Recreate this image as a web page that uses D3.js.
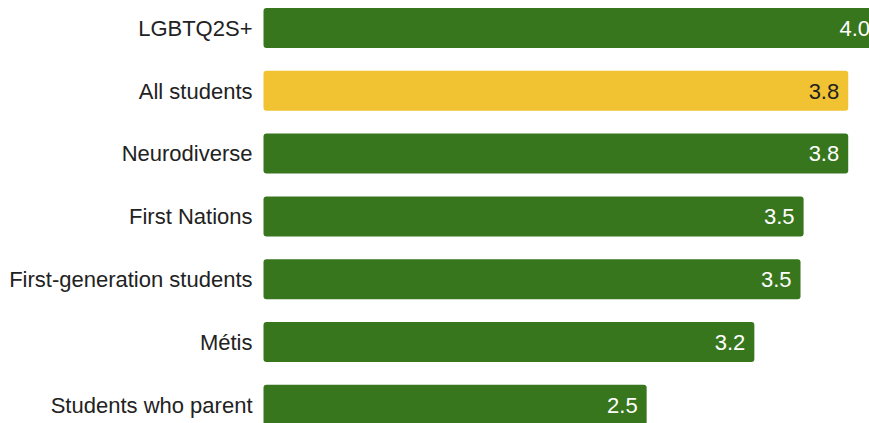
<!DOCTYPE html>
<html>
<head>
<meta charset="utf-8">
<script src="https://cdn.jsdelivr.net/npm/d3@7"></script>
<style>
  body { margin: 0; background: #fff; }
  svg { display: block; font-family: "Liberation Sans", Arial, sans-serif; }
</style>
</head>
<body>
<svg></svg>
<script>
// data
var groups = ["LGBTQ2S+", "All students", "Neurodiverse", "First Nations",
              "First-generation students", "Métis", "Students who parent"];
var scores = [4.0, 3.8, 3.8, 3.51, 3.49, 3.19, 2.49];
var highlight = ["All students"];

var width = 869,
    height = 423;

var svg = d3.select("svg")
    .attr("width", width)
    .attr("height", height);

// scales
var x = d3.scaleLinear()
    .domain([0, 4.0])
    .range([263.5, 879]);

var y = d3.scaleBand()
    .domain(groups)
    .range([-3.4, 436.2])
    .paddingInner(0.363)
    .paddingOuter(0.1815);

var green = "#38761d",
    yellow = "#f1c232";

var rows = svg.append("g")
  .selectAll("g")
  .data(groups)
  .enter()
  .append("g");

// bars
rows.append("rect")
    .attr("x", x(0))
    .attr("y", function(d) { return y(d); })
    .attr("width", function(d, i) { return x(scores[i]) - x(0); })
    .attr("height", y.bandwidth())
    .attr("rx", 3)
    .attr("fill", function(d) { return highlight.indexOf(d) >= 0 ? yellow : green; });

// category labels
rows.append("text")
    .attr("x", x(0) - 11)
    .attr("y", function(d) { return y(d) + y.bandwidth() / 2; })
    .attr("dy", "0.35em")
    .attr("text-anchor", "end")
    .style("font-size", "22px")
    .style("fill", "#222")
    .text(function(d) { return d; });

// value labels
rows.append("text")
    .attr("x", function(d, i) { return x(scores[i]) - 9; })
    .attr("y", function(d) { return y(d) + y.bandwidth() / 2; })
    .attr("dy", "0.35em")
    .attr("text-anchor", "end")
    .style("font-size", "22px")
    .style("fill", function(d) { return highlight.indexOf(d) >= 0 ? "#222" : "#fff"; })
    .text(function(d, i) { return d3.format(".1f")(scores[i]); });
</script>
</body>
</html>
